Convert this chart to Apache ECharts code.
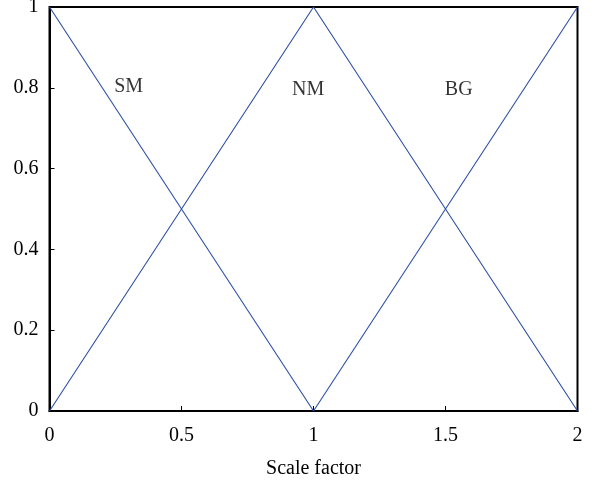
<!DOCTYPE html>
<html><head><meta charset="utf-8">
<script src="https://cdn.jsdelivr.net/npm/echarts@6/dist/echarts.min.js"></script>
<style>html,body{margin:0;padding:0;background:#fff}#c{width:597px;height:483px}</style>
</head><body><div id="c"></div>
<script>
const smX = [0, 1];
const smY = [1, 0];
const nmX = [0, 1, 2];
const nmY = [0, 1, 0];
const bgX = [1, 2];
const bgY = [0, 1];
const labelNames = ['SM', 'NM', 'BG'];
const labelX = [0.30, 0.98, 1.55];
const labelY = [0.802, 0.795, 0.795];
const xTicks = [0, 0.5, 1, 1.5, 2];
const yTicks = [0, 0.2, 0.4, 0.6, 0.8, 1];

const font = 'Liberation Serif';
const lineColor = '#2b4ea6';
const zip = (a, b) => a.map((v, i) => [v, b[i]]);
const lineSeries = (x, y) => ({
  type: 'line', data: zip(x, y), symbol: 'none', silent: true,
  lineStyle: { color: lineColor, width: 1.1 }
});
const axisCommon = {
  axisLine: { show: true, onZero: false, lineStyle: { color: '#000', width: 2 } },
  axisTick: { show: true, inside: true, length: 5, lineStyle: { color: '#000', width: 1 } },
  splitLine: { show: false },
  axisLabel: { color: '#000', fontFamily: font, fontSize: 20 }
};
const chart = echarts.init(document.getElementById('c'));
chart.setOption({
  animation: false,
  grid: { left: 49.5, top: 7, width: 528, height: 404, outerBoundsMode: 'none', containLabel: false, show: true, borderColor: '#000', borderWidth: 2, backgroundColor: 'transparent' },
  xAxis: Object.assign({}, axisCommon, {
    type: 'value', min: 0, max: 2, interval: 0.5,
    axisLabel: Object.assign({}, axisCommon.axisLabel, { margin: 15, formatter: v => String(v) }),
    name: 'Scale factor', nameLocation: 'middle', nameGap: 48,
    nameTextStyle: { color: '#000', fontFamily: font, fontSize: 20 }
  }),
  yAxis: Object.assign({}, axisCommon, {
    type: 'value', min: 0, max: 1, interval: 0.2,
    axisLabel: Object.assign({}, axisCommon.axisLabel, { margin: 11, formatter: v => String(v) })
  }),
  series: [
    lineSeries(smX, smY),
    lineSeries(nmX, nmY),
    lineSeries(bgX, bgY),
    {
      type: 'scatter', symbolSize: 0, silent: true,
      data: labelNames.map((n, i) => ({ value: [labelX[i], labelY[i]], name: n })),
      label: { show: true, position: 'inside', formatter: p => p.name, color: '#000', fontFamily: font, fontSize: 20 }
    }
  ]
});
</script></body></html>
